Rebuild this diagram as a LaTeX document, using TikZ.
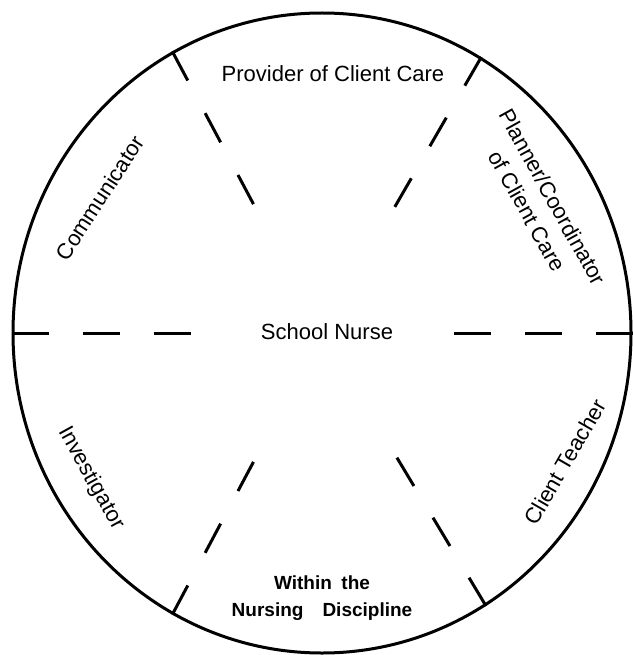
\documentclass[tikz,border=0pt]{standalone}
\usepackage{fontspec}
\setmainfont{Liberation Sans}
\usetikzlibrary{shapes.geometric,calc}

\begin{document}
\begin{tikzpicture}[x=1pt,y=-1pt,
    lbl/.style={font=\fontsize{22}{29}\selectfont, inner sep=0pt, align=center},
    spoke/.style={line width=3pt, dash pattern=on 33pt off 37pt},
    rim/.style={line width=3pt, dash pattern=on 37pt off 34pt}]
\useasboundingbox (0,0) rectangle (632,655);
\node[draw, ellipse, line width=3pt, minimum width=618pt, minimum height=640pt, inner sep=0pt] (wheel) at (322,333) {};
% spokes
\foreach \a in {118,60.5,242,301} {
    \draw[spoke] (wheel.\a) -- ($(wheel.\a)!173pt!(wheel.center)$);
}
\draw[rim] (wheel.west) -- ($(wheel.west)!179pt!(wheel.east)$);
\draw[rim] (wheel.east) -- ($(wheel.east)!179pt!(wheel.west)$);
% roles
\node[lbl] (nurse) at (327,332) {School Nurse};
\node[lbl] (provider) at (333,74) {Provider of Client Care};
\node[lbl, rotate=57] (communicator) at (100,198) {Communicator};
\node[lbl, rotate=-61] (planner) at (540,204) {Planner/Coordinator\\of Client Care};
\node[lbl, rotate=-61] (investigator) at (91,478) {Investigator};
\node[lbl, rotate=60] (teacher) at (565,462) {Client Teacher};
\node[lbl, font=\fontsize{19}{27}\selectfont\bfseries] (within) at (322,598) {Within\enspace the\\Nursing\quad Discipline};
\end{tikzpicture}
\end{document}
